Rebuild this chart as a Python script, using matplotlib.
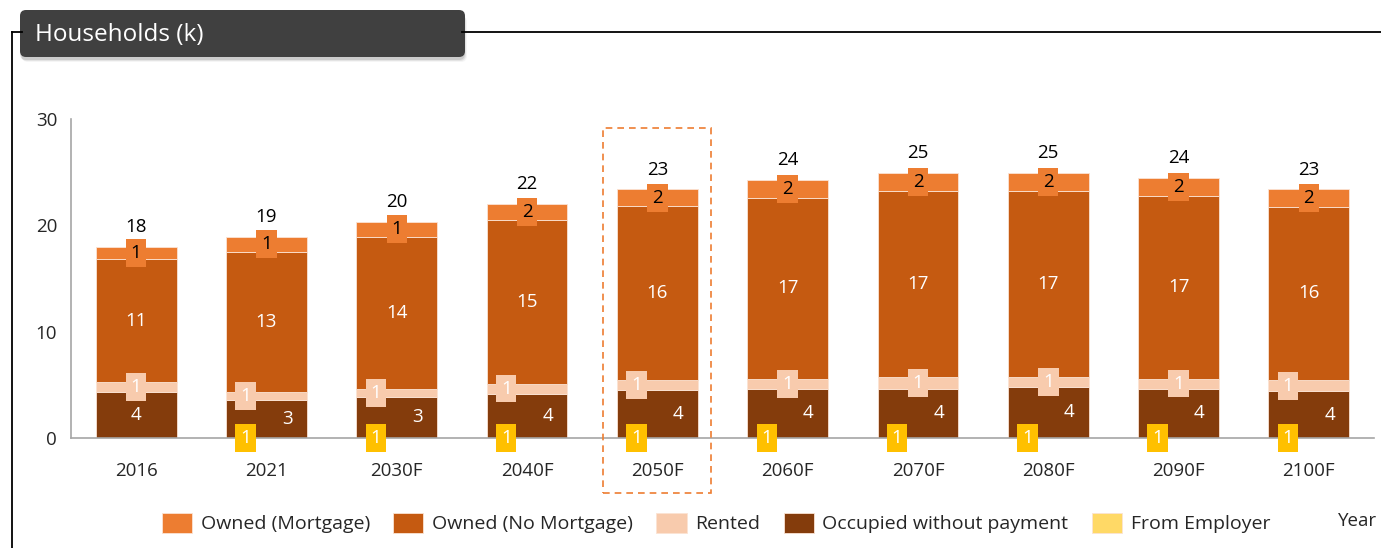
import matplotlib
matplotlib.use('Agg')
import matplotlib.pyplot as plt
from matplotlib.patches import FancyBboxPatch, Patch, Rectangle
from matplotlib.lines import Line2D
import numpy as np

# ---------------- data ----------------
categories = ['2016', '2021', '2030F', '2040F', '2050F', '2060F', '2070F', '2080F', '2090F', '2100F']
occupied = [4.33, 3.62, 3.86, 4.18, 4.56, 4.61, 4.65, 4.80, 4.65, 4.40]
rented = [0.94, 0.72, 0.79, 0.94, 0.88, 0.94, 1.09, 0.94, 0.94, 1.04]
owned_no_mortgage = [11.52, 13.18, 14.27, 15.35, 16.38, 17.04, 17.48, 17.51, 17.17, 16.32]
owned_mortgage = [1.19, 1.41, 1.41, 1.54, 1.57, 1.69, 1.72, 1.69, 1.72, 1.64]
# printed data labels
occupied_lbl = [4, 3, 3, 4, 4, 4, 4, 4, 4, 4]
rented_lbl = [1, 1, 1, 1, 1, 1, 1, 1, 1, 1]
no_mortgage_lbl = [11, 13, 14, 15, 16, 17, 17, 17, 17, 16]
mortgage_lbl = [1, 1, 1, 2, 2, 2, 2, 2, 2, 2]
employer_lbl = [0, 1, 1, 1, 1, 1, 1, 1, 1, 1]
series_names = ['Owned (Mortgage)', 'Owned (No Mortgage)', 'Rented',
                'Occupied without payment', 'From Employer']
highlight = '2050F'
yticks = [0, 10, 20, 30]

# label placement (style): horizontal nudges of crowded labels
rented_nudge = [0, -1, -1, -1, -1, 0, 0, 0, 0, -1]

# ---------------- style ----------------
plt.rcParams['font.family'] = ['Open Sans', 'DejaVu Sans']
c_m, c_nm, c_r, c_o, c_e, c_e_lbl = '#ED7D31', '#C55A11', '#F8CBAD', '#843C0C', '#FFD966', '#FFC000'
txt = '#262626'

W, H = 1381, 548
fig = plt.figure(figsize=(W / 100, H / 100), dpi=100)
ax = fig.add_axes([71 / W, (H - 438) / H, (1374 - 71) / W, (438 - 119) / H])

n = len(categories)
x = np.arange(n)
bw = 0.62
occ = np.array(occupied)
ren = np.array(rented)
nm = np.array(owned_no_mortgage)
mo = np.array(owned_mortgage)

ekw = dict(edgecolor='#FBE3D3', linewidth=0.6, zorder=2)
ax.bar(x, occ, bw, color=c_o, **ekw)
ax.bar(x, ren, bw, bottom=occ, color=c_r, **ekw)
ax.bar(x, nm, bw, bottom=occ + ren, color=c_nm, **ekw)
ax.bar(x, mo, bw, bottom=occ + ren + nm, color=c_m, **ekw)
total = occ + ren + nm + mo

ax.set_xlim(-0.5, n - 0.5)
ax.set_ylim(0, 30)
ax.set_yticks(yticks)
ax.set_xticks(x)
ax.set_xticklabels(categories)
ax.tick_params(axis='both', length=0, labelsize=13.5, colors=txt)
ax.tick_params(axis='x', pad=17)
ax.tick_params(axis='y', pad=10)
for s in ['top', 'right']:
    ax.spines[s].set_visible(False)
for s in ['left', 'bottom']:
    ax.spines[s].set_color('#A6A6A6')
    ax.spines[s].set_linewidth(1.2)

# ---------------- labels ----------------
shift = 0.16
lfs = 13.5


def boxlabel(xx, yy, s, fc, tc):
    ax.text(xx, yy, s, ha='center', va='center', fontsize=lfs, color=tc, zorder=5,
            bbox=dict(boxstyle='square,pad=0.26', fc=fc, ec='none'))


for i in range(n):
    has_emp = employer_lbl[i] > 0
    boxlabel(x[i], occ[i] + ren[i] + nm[i] + mo[i] / 2, str(mortgage_lbl[i]), c_m, 'black')
    ax.text(x[i], occ[i] + ren[i] + nm[i] / 2, str(no_mortgage_lbl[i]), ha='center', va='center',
            fontsize=lfs, color='white', zorder=5)
    boxlabel(x[i] + rented_nudge[i] * shift, occ[i] + ren[i] / 2, str(rented_lbl[i]), c_r, 'white')
    os_ = shift if has_emp else 0
    ax.text(x[i] + os_, occ[i] / 2, str(occupied_lbl[i]), ha='center', va='center',
            fontsize=lfs, color='white', zorder=5)
    if has_emp:
        boxlabel(x[i] - shift, 0, str(employer_lbl[i]), c_e_lbl, 'white')
    ax.annotate(str(int(round(total[i]))), (x[i], total[i]), xytext=(0, 10.5),
                textcoords='offset points', ha='center', va='baseline', fontsize=lfs,
                color='black', zorder=5)

# highlight box
hi = categories.index(highlight)
ax.add_patch(Rectangle((hi - 0.415, -5.2), 0.83, 34.36, fill=False, ec=c_m, lw=1.2,
                       ls=(0, (4, 3)), clip_on=False, zorder=6))

# ---------------- legend ----------------
handles = [Patch(fc=c, ec='#FBE3D3', lw=0.6) for c in (c_m, c_nm, c_r, c_o, c_e)]
fig.legend(handles, series_names, loc='center', bbox_to_anchor=(716 / W, (H - 523) / H),
           ncol=5, frameon=False, fontsize=14, handlelength=1.55, handleheight=1.2,
           handletextpad=0.45, columnspacing=1.2, labelcolor=txt)
fig.text(1338 / W, (H - 521) / H, 'Year', ha='left', va='center', fontsize=13.5, color=txt)

# ---------------- frame and title box ----------------
ov = fig.add_axes([0, 0, 1, 1], zorder=10)
ov.set_xlim(0, W)
ov.set_ylim(H, 0)
ov.axis('off')
ov.patch.set_alpha(0)
ov.add_line(Line2D([12, 12], [32, H], color='black', lw=1.3))
ov.add_line(Line2D([12, 22], [32, 32], color='black', lw=1.3))
ov.add_line(Line2D([462, W], [32, 32], color='black', lw=1.3))
for k, a in enumerate([0.10, 0.07, 0.04]):
    ov.add_patch(FancyBboxPatch((20 + k, 12 + 2 + k), 445, 46, boxstyle='round,pad=0,rounding_size=6',
                                fc='black', ec='none', alpha=a))
ov.add_patch(FancyBboxPatch((20, 10), 445, 47, boxstyle='round,pad=0,rounding_size=6',
                            fc='#404040', ec='none'))
ov.text(35, 35, 'Households (k)', ha='left', va='center', fontsize=17.5, color='white')

fig.savefig('out.png', dpi=100)
